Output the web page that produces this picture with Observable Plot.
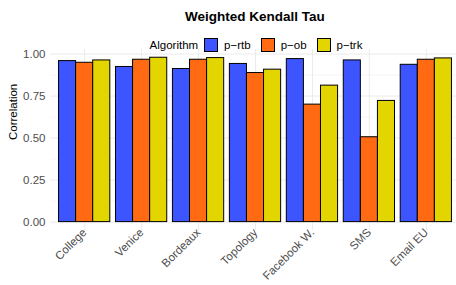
<!DOCTYPE html>
<html><head><meta charset="utf-8">
<script src="https://cdn.jsdelivr.net/npm/d3@7"></script>
<script src="https://cdn.jsdelivr.net/npm/@observablehq/plot@0.6"></script>
<style>
body{margin:0;background:#fff;font-family:"Liberation Sans",Arial,sans-serif;}
#wrap{position:relative;width:456px;height:285px;overflow:hidden;}
#wrap svg{position:absolute;left:0;top:0;max-width:none;}
#title{position:absolute;left:0;width:510px;top:9px;text-align:center;font-weight:bold;font-size:13.5px;color:#000;}
#legend{position:absolute;left:0;width:512px;top:37px;display:flex;justify-content:center;align-items:center;font-size:11.5px;color:#000;height:15px;}
#legend .sw{width:14px;height:14px;border:1px solid #000;box-sizing:border-box;display:inline-block;margin:0 6px 0 0;}
#legend .lab{margin-right:10px;}
#legend .lab:last-child{margin-right:0;}
#legend .ttl{margin-right:6px;}
</style></head>
<body>
<div id="wrap"><div id="title"></div><div id="legend"></div></div>
<script>
const categories = ["College","Venice","Bordeaux","Topology","Facebook W.","SMS","Email EU"];
const algorithms = ["p\u2212rtb","p\u2212ob","p\u2212trk"];
const rtb = [0.958,0.923,0.911,0.941,0.970,0.962,0.936];
const ob  = [0.948,0.966,0.966,0.887,0.699,0.505,0.966];
const trk = [0.962,0.978,0.976,0.907,0.812,0.721,0.974];
const colors = ["#3D55FF","#FF6A13","#E3D500"];
const yTicks = [0,0.25,0.5,0.75,1];
const yMinor = [0.125,0.375,0.625,0.875];
const title = "Weighted Kendall Tau";
const legendTitle = "Algorithm";
const yLabel = "Correlation";

const series = [rtb, ob, trk];
const data = [];
categories.forEach((c,i)=>algorithms.forEach((a,j)=>data.push({cat:c, alg:a, value:series[j][i]})));

const W=460,H=285, common = {width:W,height:H,marginLeft:50,marginRight:0,marginTop:49,marginBottom:55};
const yDomain=[-0.05,1.027];
const font = '"Liberation Sans",Arial,sans-serif';

const bg = Plot.plot({
  ...common,
  style:{fontFamily:font,fontSize:"11.5px",background:"white",color:"#4D4D4D",maxWidth:"none"},
  x:{type:"band",domain:categories,paddingInner:0.1,paddingOuter:0.15,round:false,tickSize:0,tickRotate:-45,tickPadding:2,label:null},
  y:{domain:yDomain,ticks:yTicks,tickFormat:d3.format(".2f"),tickSize:0,tickPadding:5,label:null},
  marks:[
    Plot.ruleY(yMinor,{stroke:"#EBEBEB",strokeWidth:0.5}),
    Plot.ruleY(yTicks,{stroke:"#EBEBEB",strokeWidth:1}),
    Plot.ruleX(categories,{x:d=>d,stroke:"#EBEBEB",strokeWidth:1}),
    Plot.text([yLabel],{frameAnchor:"left",rotate:-90,dx:-37,fill:"#000",fontSize:11.5})
  ]
});

const fg = Plot.plot({
  ...common,
  style:{background:"transparent",maxWidth:"none"},
  facet:{data, x:"cat"},
  fx:{domain:categories,paddingInner:0.1,paddingOuter:0.15,round:false,axis:null,label:null},
  x:{domain:algorithms,padding:0,round:false,axis:null},
  y:{domain:yDomain,axis:null},
  color:{domain:algorithms,range:colors},
  marks:[
    Plot.barY(data,{x:"alg",y:"value",fill:"alg",stroke:"#000",strokeWidth:1})
  ]
});

bg.querySelectorAll('g[aria-label^="x-axis"]').forEach(g=>{
  g.setAttribute("transform", (g.getAttribute("transform")||"") + " translate(0,-2)");
});

const wrap=document.getElementById("wrap");
wrap.prepend(fg); wrap.prepend(bg);
document.getElementById("title").textContent=title;
const lg=document.getElementById("legend");
const t=document.createElement("span");t.className="ttl";t.textContent=legendTitle;lg.appendChild(t);
algorithms.forEach((a,i)=>{
  const s=document.createElement("span");s.className="sw";s.style.background=colors[i];lg.appendChild(s);
  const l=document.createElement("span");l.className="lab";l.textContent=a;lg.appendChild(l);
});
</script>
</body></html>
